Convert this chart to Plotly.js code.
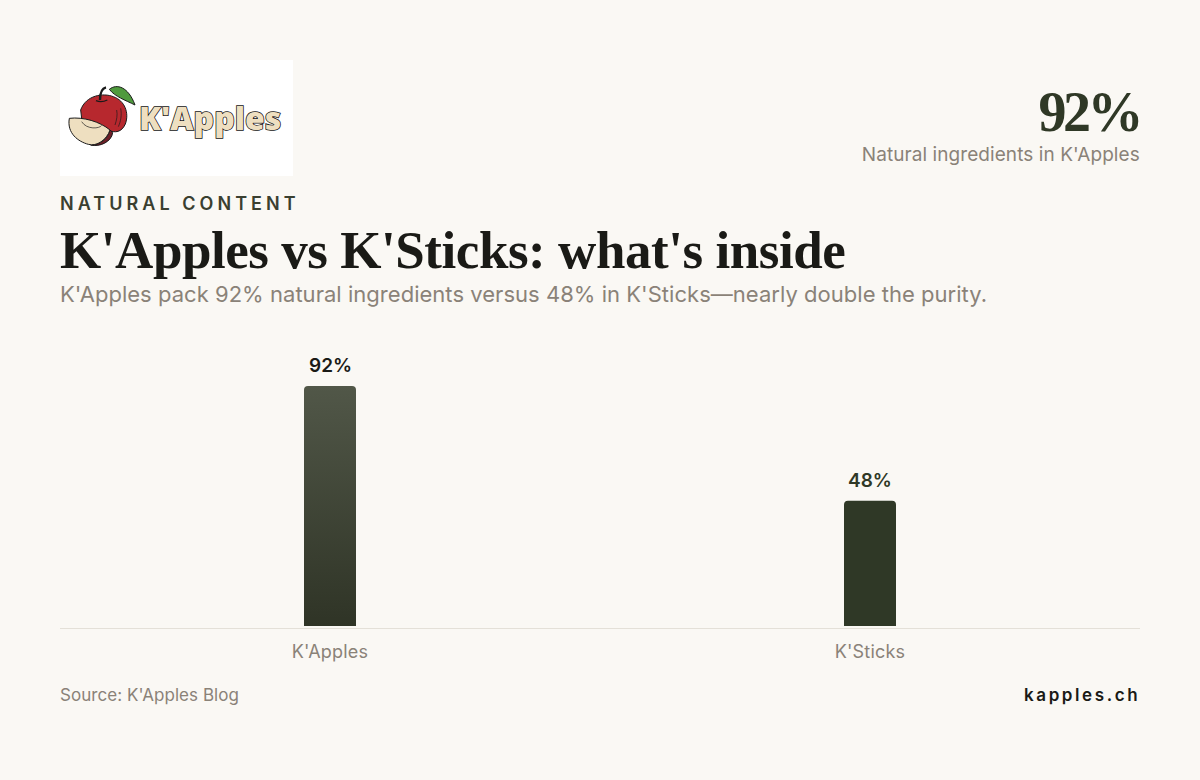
<!DOCTYPE html>
<html>
<head>
<meta charset="utf-8">
<script src="https://cdn.plot.ly/plotly-3.0.1.min.js"></script>
<style>
  html, body { margin: 0; padding: 0; background: #faf8f4; }
  #graph { width: 1200px; height: 780px; }
  .annotation[data-index="0"] text { stroke: #111; stroke-width: 1.5px; paint-order: stroke; }
  .annotation[data-index="1"] text { letter-spacing: -3.5px; }
  .annotation[data-index="2"] text { letter-spacing: 0.07px; }
  .annotation[data-index="3"] text { letter-spacing: 4.05px; }
  .annotation[data-index="4"] text { letter-spacing: -0.45px; }
  .annotation[data-index="5"] text { letter-spacing: 0.03px; }
  .annotation[data-index="6"] text { letter-spacing: 0.05px; }
  .annotation[data-index="7"] text { letter-spacing: 2.6px; }
  .xtick text { letter-spacing: 0.2px; }
</style>
</head>
<body>
<div id="graph"></div>
<script>
var categories = ["K'Apples", "K'Sticks"];
var naturalPct = [92, 48];
var barLabels = ['92%', '48%'];
var labelColors = ['#1a1a16', '#2f3826'];

var INK = '#1a1a16', OLIVE = '#2f3826', MUTED = '#8a8278';
var SANS = 'Inter, sans-serif', SERIF = '"Liberation Serif", serif';

// plot area in page pixels
var L = 60, R = 1140, T = 340, B = 628;
function px(x) { return (x - L) / (R - L); }
function py(y) { return (B - y) / (B - T); }

// free text placed by page pixel, y is the vertical middle of the text
function note(text, x, y, anchor, font) {
  return {
    text: text, xref: 'paper', yref: 'paper', x: px(x), y: py(y),
    xanchor: anchor, yanchor: 'middle', showarrow: false, align: anchor,
    borderpad: 0, font: font
  };
}

var appleSvg = '<svg xmlns="http://www.w3.org/2000/svg" viewBox="30 30 696 348" width="696" height="348">' +
  '<g stroke="#1a1a1a" stroke-width="3" stroke-linejoin="round">' +
  '<path d="M178 118C200 100 235 110 255 165C225 150 195 140 178 118Z" fill="#4f9a3d"/>' +
  '<path d="M92 180C108 135 160 128 190 140C225 152 238 190 226 222C215 247 195 250 175 240L95 205Z" fill="#b7282e"/>' +
  '<path d="M150 150C150 130 155 115 168 112" fill="none" stroke-width="7"/>' +
  '<path d="M138 152C148 156 160 156 172 150" fill="none" stroke-width="4"/>' +
  '<path d="M200 180C203 195 200 210 195 225M212 175C216 195 212 215 205 230" fill="none" stroke-width="2"/>' +
  '<path d="M180 240C172 268 150 284 122 285C150 292 185 275 188 248Z" fill="#6e1f28"/>' +
  '<path d="M58 205C100 200 150 215 180 240C170 270 140 290 115 283C85 275 50 250 58 205Z" fill="#eedfc0"/>' +
  '<path d="M95 215C110 240 150 236 155 226" fill="none" stroke-width="2"/>' +
  '</g></svg>';

var annotations = [
  note("K'Apples", 210, 117, 'center', {family: '"Open Sans", sans-serif', size: 32, weight: 800, color: '#eedfc0'}),
  note('92%', 1141, 112, 'right', {family: SERIF, size: 56, weight: 700, color: OLIVE}),
  note("Natural ingredients in K'Apples", 1141, 154.5, 'right', {family: SANS, size: 19, color: MUTED}),
  note('NATURAL CONTENT', 59, 204, 'left', {family: SANS, size: 18, weight: 600, color: '#3a3f30'}),
  note("K'Apples vs K'Sticks: what's inside", 59, 250, 'left', {family: SERIF, size: 53, weight: 700, color: INK}),
  note("K'Apples pack 92% natural ingredients versus 48% in K'Sticks\u2014nearly double the purity.", 59, 294, 'left', {family: SANS, size: 22, color: MUTED}),
  note("Source: K'Apples Blog", 59, 695, 'left', {family: SANS, size: 17, color: MUTED}),
  note('kapples.ch', 1141, 695, 'right', {family: SANS, size: 17, weight: 600, color: INK})
];

// value labels sit on the bars, through the data axes
categories.forEach(function (c, i) {
  annotations.push({
    text: barLabels[i], x: c, y: naturalPct[i], xref: 'x', yref: 'y',
    xanchor: 'center', yanchor: 'bottom', yshift: 7, showarrow: false,
    font: {family: SANS, size: 19, weight: 600, color: labelColors[i]}
  });
});

var trace = {
  type: 'bar',
  x: categories,
  y: naturalPct,
  width: 0.0963,
  marker: {color: [OLIVE, OLIVE], cornerradius: 4, line: {width: 0}},
  hoverinfo: 'skip'
};

var layout = {
  width: 1200,
  height: 780,
  margin: {l: L, r: 1200 - R, t: T, b: 780 - B, pad: 0},
  paper_bgcolor: '#faf8f4',
  plot_bgcolor: '#faf8f4',
  showlegend: false,
  font: {family: SANS},
  xaxis: {
    type: 'category',
    range: [-0.5, 1.5],
    fixedrange: true,
    showgrid: false,
    zeroline: false,
    showline: true,
    linecolor: '#e4e0d8',
    linewidth: 1,
    ticks: 'outside',
    ticklen: 7,
    tickcolor: 'rgba(0,0,0,0)',
    tickfont: {family: SANS, size: 18, color: MUTED}
  },
  yaxis: {
    range: [-0.77, 109.6],
    fixedrange: true,
    visible: false
  },
  shapes: [{
    type: 'rect', xref: 'paper', yref: 'paper', layer: 'below',
    x0: px(60), x1: px(293), y0: py(176), y1: py(60),
    fillcolor: '#ffffff', line: {width: 0}
  }],
  images: [{
    source: 'data:image/svg+xml,' + encodeURIComponent(appleSvg),
    xref: 'paper', yref: 'paper', x: px(60), y: py(60),
    sizex: px(292) - px(60), sizey: py(60) - py(176),
    xanchor: 'left', yanchor: 'top', layer: 'above', sizing: 'stretch'
  }],
  annotations: annotations
};

Plotly.newPlot('graph', [trace], layout, {displayModeBar: false, staticPlot: true}).then(function (gd) {
  // Plotly has no gradient fill for bars, so the first bar gets one here
  var svg = gd.querySelector('.main-svg');
  var ns = 'http://www.w3.org/2000/svg';
  var defs = svg.querySelector('defs');
  var grad = document.createElementNS(ns, 'linearGradient');
  grad.setAttribute('id', 'barFade');
  grad.setAttribute('x1', '0'); grad.setAttribute('y1', '0');
  grad.setAttribute('x2', '0'); grad.setAttribute('y2', '1');
  [['0', '#515748'], ['1', '#2f3426']].forEach(function (s) {
    var stop = document.createElementNS(ns, 'stop');
    stop.setAttribute('offset', s[0]);
    stop.setAttribute('stop-color', s[1]);
    grad.appendChild(stop);
  });
  defs.appendChild(grad);
  gd.querySelector('.bars .point path').style.fill = 'url(#barFade)';
});
</script>
</body>
</html>
